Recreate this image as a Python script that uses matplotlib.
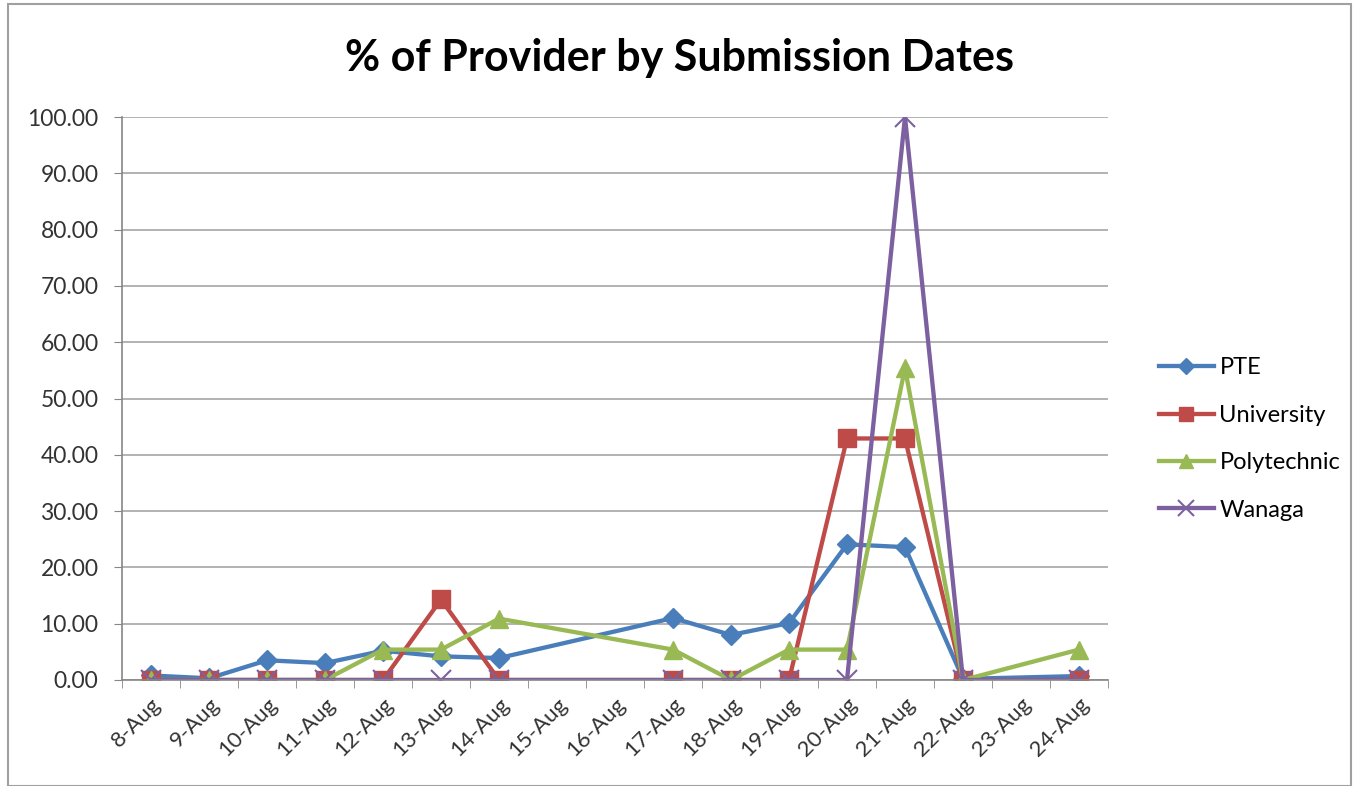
import numpy as np
import matplotlib
matplotlib.use("Agg")
import matplotlib.pyplot as plt
from matplotlib.patches import Rectangle

plt.rcParams["font.family"] = ["Lato", "DejaVu Sans"]

# submission days (August); 15, 16 and 23 have no data
days = [8, 9, 10, 11, 12, 13, 14, 17, 18, 19, 20, 21, 22, 24]
pte = [0.8, 0.3, 3.5, 3.0, 5.2, 4.2, 3.9, 11.0, 8.0, 10.1, 24.1, 23.6, 0.2, 0.7]
university = [0, 0, 0, 0, 0, 14.3, 0, 0, 0, 0, 42.9, 42.9, 0, 0]
polytechnic = [0, 0, 0, 0, 5.4, 5.4, 10.9, 5.4, 0, 5.4, 5.4, 55.4, 0, 5.4]
wanaga = [0, 0, 0, 0, 0, 0, 0, 0, 0, 0, 0, 100.0, 0, 0]

tick_days = list(range(8, 25))
tick_labels = [f"{d}-Aug" for d in tick_days]

fig = plt.figure(figsize=(13.59, 7.86), dpi=100)
ax = fig.add_axes([122 / 1359, 1 - 680 / 786, (1108 - 122) / 1359, (680 - 117) / 786])

series = [
    ("PTE", pte, "#4A7EBB", "D", 10),
    ("University", university, "#BE4B48", "s", 13),
    ("Polytechnic", polytechnic, "#98B954", "^", 13),
    ("Wanaga", wanaga, "#7D60A0", "x", 14),
]
for name, vals, col, mk, ms in series:
    ax.plot(days, vals, color=col, lw=3.1, marker=mk, ms=ms,
            mew=1.5 if mk == "x" else 1, mec=col, mfc=col, label=name)

ax.set_xlim(7.5, 24.5)
ax.set_ylim(0, 100)
ax.set_yticks(np.arange(0, 101, 10))
ax.set_yticklabels([f"{v:.2f}" for v in range(0, 101, 10)], fontsize=16.5, color="#333333")
ax.set_xticks(tick_days)
ax.set_xticklabels(tick_labels, rotation=45, ha="right", rotation_mode="anchor",
                   fontsize=16, color="#333333")
ax.set_xticks(np.arange(7.5, 25, 1), minor=True)
ax.tick_params(axis="x", which="major", length=0, pad=10)
ax.tick_params(axis="x", which="minor", length=6, color="#868686", direction="out")
ax.tick_params(axis="y", length=6, color="#868686", direction="out", pad=11)
ax.grid(axis="y", color="#A6A6A6", lw=1.2)
ax.set_axisbelow(True)
for s in ["top", "right"]:
    ax.spines[s].set_visible(False)
for s in ["left", "bottom"]:
    ax.spines[s].set_color("#868686")
    ax.spines[s].set_linewidth(1.2)
ax.spines["bottom"].set_zorder(3)

fig.suptitle("% of Provider by Submission Dates", fontsize=31, fontweight="bold",
             x=0.5, y=1 - 58 / 786, va="center")

fig.legend(loc="center left", bbox_to_anchor=(1138 / 1359, 1 - 439 / 786), frameon=False,
           fontsize=17, labelspacing=1.12, handlelength=2.3, handletextpad=0.25,
           markerscale=0.8)

fig.add_artist(Rectangle((8 / 1359, 0), 1 - 16 / 1359, 1 - 4 / 786, transform=fig.transFigure,
                         fill=False, ec="#A0A0A0", lw=1.5))

fig.savefig("out.png", dpi=100)
